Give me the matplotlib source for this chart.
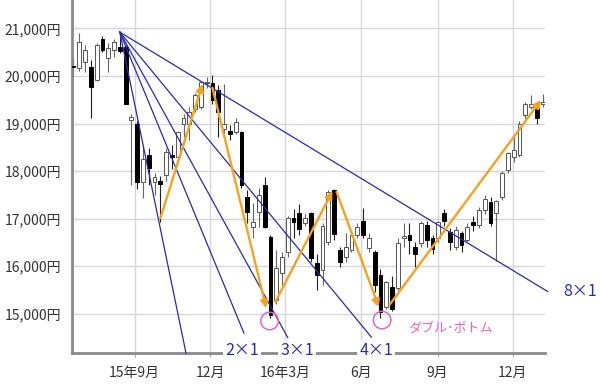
import numpy as np
import pandas as pd
import matplotlib
matplotlib.use("Agg")
import matplotlib.pyplot as plt
import matplotlib.dates as mdates

plt.rcParams['font.family'] = ['Noto Sans CJK JP', 'DejaVu Sans']

# weekly candles, week ending Friday
start_week = '2015-06-19'
opens = [20200, 20160, 20290, 20190, 19910, 20770, 20370, 20540, 20610,
         20610, 19070, 19000, 17780, 18330, 17770, 17790, 17910, 18330, 18290,
         19000, 19000, 19300, 19350, 19850, 19850, 19700, 18880, 18840, 18820,
         18820, 17460, 16820, 17140, 17700, 16610, 15300, 15850, 16300, 17010,
         17120, 16900, 17110, 16060, 15920, 16510, 17600, 16340, 16200, 16340,
         16650, 16960, 16380, 16300, 15810, 15150, 15570, 15540, 16590, 16650,
         16410, 16480, 16860, 16590, 16600, 17110, 16720, 16410, 16690, 16550,
         16930, 16860, 17180, 17350, 17120, 17460, 18020, 18300, 18330, 19170,
         19350, 19320, 19400]
closes = [20180, 20710, 20540, 19770, 20650, 20540, 20580, 20710, 20520,
          19420, 19140, 17770, 18260, 18060, 17880, 17720, 18400, 18290, 18820,
          19110, 19240, 19590, 19870, 19880, 19500, 19240, 18990, 18770, 19030,
          17700, 17140, 16930, 17490, 16830, 14970, 15960, 16190, 17010, 16940,
          16780, 17010, 16170, 15820, 16850, 17570, 16670, 16090, 16410, 16650,
          16830, 16650, 16600, 15600, 15040, 15670, 15110, 16480, 16630, 16550,
          16250, 16900, 16550, 16370, 16920, 16960, 16510, 16760, 16450, 16830,
          16860, 17180, 17420, 16900, 17370, 17950, 18370, 18440, 19000, 19400,
          19420, 19110, 19450]
highs = [20370, 20900, 20640, 20330, 20700, 20830, 20690, 20770, 20920,
         20650, 19190, 19050, 18540, 18480, 17950, 17900, 18480, 18550, 18850,
         19210, 19350, 19650, 19900, 19980, 20010, 19800, 19840, 18960, 19110,
         18850, 17600, 17320, 17640, 17880, 16650, 16340, 16300, 17050, 17200,
         17300, 17100, 17150, 16250, 16900, 17600, 17620, 16400, 16700, 16750,
         16900, 17220, 16700, 16350, 15950, 15700, 15800, 16590, 16900, 16900,
         16500, 16950, 16950, 16650, 16950, 17200, 16800, 16850, 16750, 16900,
         17050, 17250, 17500, 17450, 17400, 18000, 18400, 18750, 19050, 19450,
         19600, 19420, 19620]
lows = [19970, 20100, 20090, 19110, 19900, 20500, 20090, 20400, 20480,
        19400, 17710, 17630, 17430, 17700, 17500, 16930, 17800, 18050, 18200,
        18710, 18650, 19250, 19300, 19750, 19400, 18720, 18700, 18650, 18780,
        17650, 16910, 16600, 16820, 16800, 14910, 15200, 15600, 16200, 16600,
        16650, 16850, 16100, 15500, 15600, 16450, 16550, 15980, 16100, 16300,
        16600, 16600, 16300, 15450, 14910, 15100, 15050, 15500, 16400, 16250,
        15990, 16400, 16400, 16250, 16500, 16850, 16350, 16350, 16300, 16500,
        16750, 16800, 17100, 16850, 16110, 17400, 17950, 18200, 18300, 19100,
        19300, 19000, 19350]

y_ticks = [15000, 16000, 17000, 18000, 19000, 20000, 21000]
x_ticks = ['2015-09-01', '2015-12-01', '2016-03-01', '2016-06-01', '2016-09-01', '2016-12-01']
x_labels = ['15年9月', '12月', '16年3月', '6月', '9月', '12月']

# gann fan from the August 2015 top
fan_origin = ('2015-08-14', 20920)
fan_unit = 10.54  # yen per day of the flattest line
fan_mult = [8, 4, 3, 2, 1]
fan_end = ['2015-11-02', '2016-01-11', '2016-03-04', '2016-06-13', '2017-01-12']
fan_labels = ['2×1', '3×1', '4×1', '8×1']
fan_label_dates = ['2016-01-09', '2016-03-15', '2016-06-19', '2017-02-20']

# orange swing arrows
swing_start = [('2015-10-02', 17010), ('2015-12-04', 19750), ('2016-02-18', 15250),
               ('2016-05-02', 17560), ('2016-07-05', 15190)]
swing_end = [('2015-11-22', 19830), ('2016-02-07', 15120), ('2016-04-27', 17580),
             ('2016-06-22', 15145), ('2017-01-04', 19490)]

circle_dates = ['2016-02-11', '2016-06-26']
circle_prices = [14850, 14870]
bottom_note = ('2016-09-17', 14700, 'ダブル･ボトム')

dates = pd.date_range(start_week, periods=len(opens), freq='7D')
xs = mdates.date2num(dates)

fig = plt.figure(figsize=(6, 3.86), dpi=100)
ax = fig.add_axes([0.12, 0.0855, 0.7883, 0.9145])

grid_c = '#d6d6de'
ax.set_axisbelow(True)
ax.grid(color=grid_c, linewidth=1)

width = 4.6
for x, o, c, h, l in zip(xs, opens, closes, highs, lows):
    up = c >= o
    ax.vlines(x, l, h, color='#666666' if up else '#222222', linewidth=0.8, zorder=2)
    ax.bar(x, abs(c - o) if abs(c - o) > 15 else 15, width=width, bottom=min(o, c),
           color='white' if up else 'black', edgecolor='#555555' if up else 'black',
           linewidth=0.7, zorder=3)

fx0 = mdates.date2num(pd.Timestamp(fan_origin[0]))
for m, end in zip(fan_mult, fan_end):
    fx1 = mdates.date2num(pd.Timestamp(end))
    fy1 = fan_origin[1] - m * fan_unit * (fx1 - fx0)
    ax.plot([fx0, fx1], [fan_origin[1], fy1], color='#2b2bb0', linewidth=0.9,
            zorder=4, clip_on=False)

orange = '#f5a21e'
for (d0, p0), (d1, p1) in zip(swing_start, swing_end):
    ax.annotate('', xy=(mdates.date2num(pd.Timestamp(d1)), p1),
                xytext=(mdates.date2num(pd.Timestamp(d0)), p0),
                arrowprops=dict(arrowstyle='-|>', color=orange, lw=1.7,
                                mutation_scale=11, shrinkA=0, shrinkB=0),
                zorder=5)

pink = '#e466be'
ax.scatter(mdates.date2num(pd.to_datetime(circle_dates)), circle_prices, s=160,
           facecolors='none', edgecolors=pink, linewidths=1.1, zorder=6)
ax.text(mdates.date2num(pd.Timestamp(bottom_note[0])), bottom_note[1], bottom_note[2],
        color=pink, fontsize=9.4, ha='center', va='center')

for lab, d in zip(fan_labels[:3], fan_label_dates[:3]):
    ax.text(mdates.date2num(pd.Timestamp(d)), 0.006, lab, transform=ax.get_xaxis_transform(),
            color='#2b2bb0', fontsize=11.5, ha='center', va='center', clip_on=False,
            zorder=10, bbox=dict(facecolor='white', edgecolor='none', pad=1.5))
ax.text(mdates.date2num(pd.Timestamp(fan_label_dates[3])), 15480, fan_labels[3],
        color='#2b2bb0', fontsize=11.5, ha='center', va='center', clip_on=False)

ax.set_xlim(mdates.date2num(pd.Timestamp('2015-06-17 05:00')),
            mdates.date2num(pd.Timestamp('2017-01-08 20:00')))
ax.set_ylim(14178, 21595)
ax.set_yticks(y_ticks)
ax.set_yticklabels([f'{v:,}円' for v in y_ticks])
ax.set_xticks(mdates.date2num(pd.to_datetime(x_ticks)))
ax.set_xticklabels(x_labels)

for s in ['top', 'right']:
    ax.spines[s].set_visible(False)
for s in ['left', 'bottom']:
    ax.spines[s].set_color('#8a8a8a')
    ax.spines[s].set_linewidth(2)
ax.tick_params(axis='y', length=0, pad=8, labelsize=10, labelcolor='#333333')
ax.tick_params(axis='x', length=3, color='#aaaaaa', pad=6, labelsize=10, labelcolor='#333333')

plt.savefig('out.png', dpi=100)
